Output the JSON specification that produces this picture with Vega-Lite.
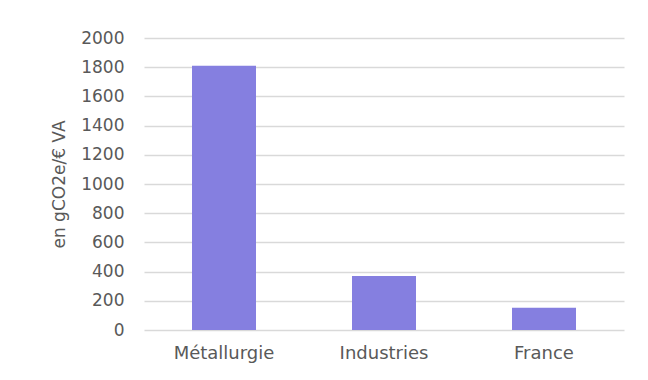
{
  "$schema": "https://vega.github.io/schema/vega-lite/v6.json",
  "width": 480,
  "height": 292,
  "autosize": {"type": "none"},
  "padding": {"left": 144, "top": 38, "right": 24, "bottom": 50},
  "background": "#FFFFFF",
  "config": {
    "view": {"stroke": null},
    "font": "DejaVu Sans",
    "axis": {"labelColor": "#595959", "titleColor": "#595959", "labelFont": "DejaVu Sans", "titleFont": "DejaVu Sans"}
  },
  "data": {
    "values": [
      {"categorie": "Métallurgie", "valeur": 1810},
      {"categorie": "Industries", "valeur": 370},
      {"categorie": "France", "valeur": 153}
    ]
  },
  "mark": {"type": "bar", "color": "#857FE0"},
  "encoding": {
    "x": {
      "field": "categorie",
      "type": "nominal",
      "sort": null,
      "scale": {"paddingInner": 0.6, "paddingOuter": 0.3},
      "axis": {"title": null, "labelAngle": 0, "labelFontSize": 18, "ticks": false, "domain": false, "labelPadding": 14}
    },
    "y": {
      "field": "valeur",
      "type": "quantitative",
      "scale": {"domain": [0, 2000]},
      "axis": {
        "title": "en gCO2e/€ VA",
        "titleFontSize": 17,
        "titleFontWeight": "normal",
        "titlePadding": 12,
        "format": "d",
        "values": [0, 200, 400, 600, 800, 1000, 1200, 1400, 1600, 1800, 2000],
        "labelFontSize": 17,
        "ticks": false,
        "domain": false,
        "labelPadding": 20,
        "gridColor": "#D9D9D9",
        "gridWidth": 1.5
      }
    }
  }
}
